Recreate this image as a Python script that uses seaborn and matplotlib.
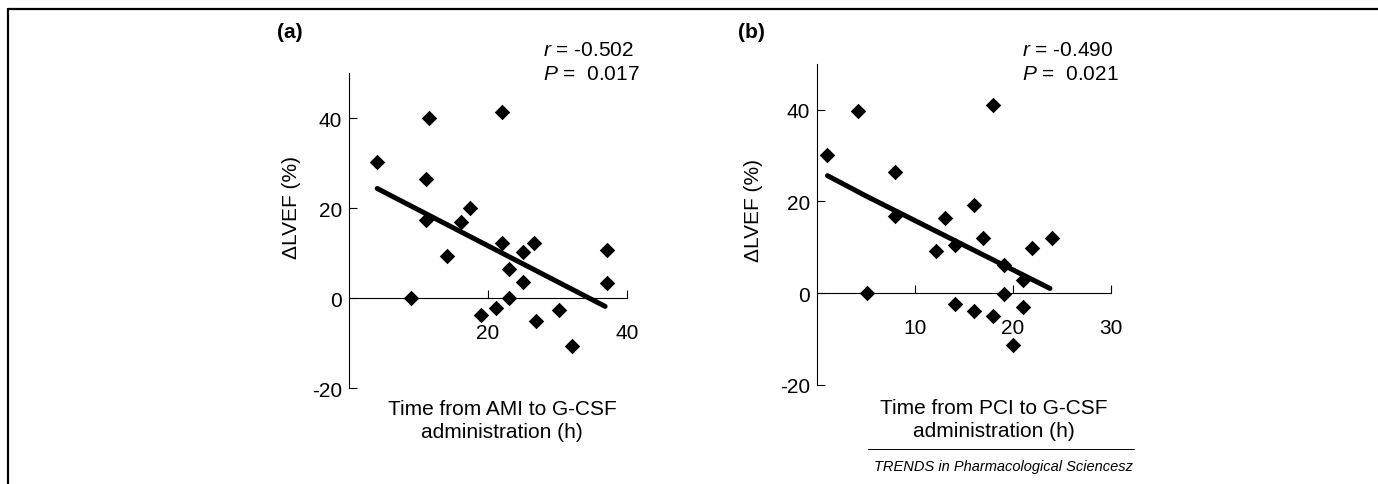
import pandas as pd
import matplotlib.pyplot as plt
from matplotlib.lines import Line2D
import seaborn as sns

# (a) time from AMI to G-CSF (h) vs change in LVEF (%)
ami_hours = [4.0, 11.6, 11.1, 11.1, 9.0, 14.2, 16.1, 17.5, 22.1, 22.0, 19.0,
             21.2, 23.0, 23.0, 25.1, 25.1, 26.6, 26.9, 30.2, 32.1, 37.2, 37.2]
ami_dlvef = [30.2, 40.0, 26.5, 17.3, 0.0, 9.5, 16.9, 20.0, 41.5, 12.3, -3.7,
             -2.2, 6.5, 0.0, 10.2, 3.6, 12.3, -5.0, -2.7, -10.7, 10.8, 3.3]
ami_fit_x = [4.1, 36.9]
ami_fit_y = [24.4, -1.8]

# (b) time from PCI to G-CSF (h) vs change in LVEF (%)
pci_hours = [1.05, 4.2, 5.1, 8.0, 8.0, 12.2, 13.1, 14.1, 14.1, 16.0, 16.0,
             17.0, 18.0, 18.0, 19.1, 19.1, 20.0, 21.0, 21.0, 22.0, 24.0]
pci_dlvef = [30.0, 39.8, 0.0, 26.3, 16.9, 9.1, 16.4, 10.5, -2.3, 19.2, -4.0,
             12.0, 41.1, -5.1, 6.2, -0.2, -11.3, 2.9, -3.0, 9.8, 12.0]
pci_fit_x = [1.1, 5.0, 23.8]
pci_fit_y = [25.6, 21.2, 1.0]

stats_a = ["$\\mathit{r}$ = -0.502", "$\\mathit{P}$ =  0.017"]
stats_b = ["$\\mathit{r}$ = -0.490", "$\\mathit{P}$ =  0.021"]

sns.set_style("ticks")
plt.rcParams["font.family"] = ["Liberation Sans", "DejaVu Sans"]
plt.rcParams["mathtext.fontset"] = "custom"
plt.rcParams["mathtext.rm"] = "Liberation Sans"
plt.rcParams["mathtext.it"] = "Liberation Sans:italic"
plt.rcParams["axes.unicode_minus"] = False
plt.rcParams["text.color"] = "black"
plt.rcParams["axes.labelcolor"] = "black"

W, H = 1378, 485
FS = 15
fig = plt.figure(figsize=(W / 100, H / 100), dpi=100)


def px_axes(x0, x1, ytop, ybot):
    return fig.add_axes([x0 / W, 1 - ybot / H, (x1 - x0) / W, (ybot - ytop) / H])


def panel(ax, x, y, fx, fy, xmax, xticks, xlabel, xlab_pos, ylab_pos):
    df = pd.DataFrame({"x": x, "y": y})
    fit = pd.DataFrame({"x": fx, "y": fy})
    sns.scatterplot(data=df, x="x", y="y", marker="D", color="black",
                    s=62, linewidth=0, ax=ax, zorder=3)
    sns.lineplot(data=fit, x="x", y="y", color="black", linewidth=3.6,
                 sort=False, estimator=None, ax=ax, zorder=4)
    ax.set_xlim(0, xmax)
    ax.set_ylim(-20, 50)
    for s in ["top", "right"]:
        ax.spines[s].set_visible(False)
    ax.spines["bottom"].set_position(("data", 0))
    for s in ["left", "bottom"]:
        ax.spines[s].set_linewidth(0.8)
        ax.spines[s].set_color("black")
    ax.set_xticks(xticks)
    ax.set_yticks([-20, 0, 20, 40])
    ax.tick_params(axis="both", direction="in", length=6, width=0.8,
                   labelsize=FS, colors="black", bottom=True, left=True)
    ax.tick_params(axis="x", pad=18)
    ax.tick_params(axis="y", pad=5)
    ax.set_xlabel(xlabel, fontsize=FS, va="center", ha="center",
                  linespacing=1.25)
    ax.xaxis.set_label_coords(*xlab_pos)
    ax.set_ylabel("\u0394LVEF (%)", fontsize=FS, va="center")
    ax.yaxis.set_label_coords(*ylab_pos)


ax_a = px_axes(348.7, 626.7, 74.3, 389.3)
panel(ax_a, ami_hours, ami_dlvef, ami_fit_x, ami_fit_y, 40, [20, 40],
      "Time from AMI to G-CSF\nadministration (h)", (0.551, -0.10), (-0.205, 0.576))

ax_b = px_axes(816.7, 1110.7, 64.8, 385.7)
panel(ax_b, pci_hours, pci_dlvef, pci_fit_x, pci_fit_y, 30, [10, 20, 30],
      "Time from PCI to G-CSF\nadministration (h)", (0.601, -0.107), (-0.216, 0.546))

# panel letters and statistics
fig.text(290 / W, 1 - 32 / H, "(a)", fontsize=FS, fontweight="bold",
         ha="center", va="center")
fig.text(751 / W, 1 - 32 / H, "(b)", fontsize=FS, fontweight="bold",
         ha="center", va="center")
for txt, yy in zip(stats_a, [50, 74]):
    fig.text(543 / W, 1 - yy / H, txt, fontsize=FS, ha="left", va="center")
for txt, yy in zip(stats_b, [50, 74]):
    fig.text(1022 / W, 1 - yy / H, txt, fontsize=FS, ha="left", va="center")

# frame lines and footer
fig.add_artist(Line2D([8 / W, 1], [1 - 10 / H] * 2, color="black", lw=1.6))
fig.add_artist(Line2D([8 / W] * 2, [0, 1 - 10 / H], color="black", lw=1.6))
fig.add_artist(Line2D([868 / W, 1134 / W], [1 - 450 / H] * 2, color="black", lw=0.7))
fig.text(1133 / W, 1 - 467 / H, "TRENDS in Pharmacological Sciencesz",
         fontsize=10.5, style="italic", ha="right", va="center")

fig.savefig("out.png", dpi=100)
